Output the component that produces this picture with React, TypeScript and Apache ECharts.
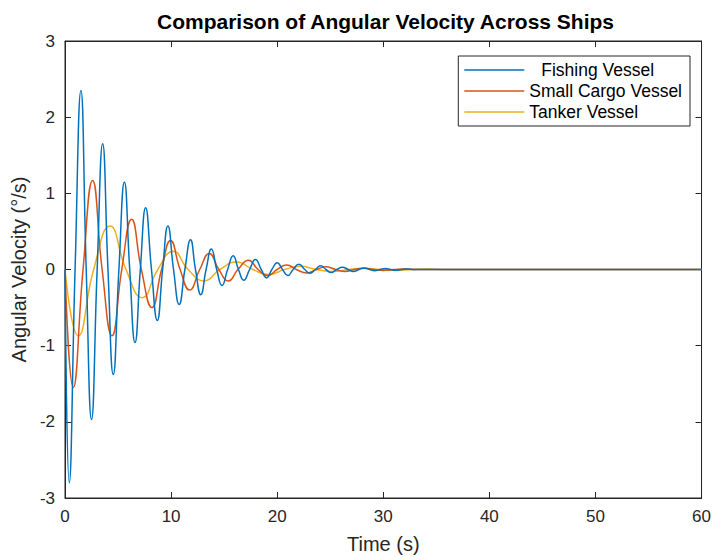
import React, { useEffect, useRef } from "react";
import * as echarts from "echarts";

const seriesNames = ["Fishing Vessel", "Small Cargo Vessel", "Tanker Vessel"];
const seriesColors = ["#0072BD", "#D95319", "#EDB120"];

const xTicks = [0, 10, 20, 30, 40, 50, 60];
const yTicks = [-3, -2, -1, 0, 1, 2, 3];

// [time (s), angular velocity (deg/s)]: extrema and zero crossings
const fishingVessel: number[][] = [
  [0, 0], [0.4, -2.8], [0.95, 0], [1.5, 2.35], [2.0, 0], [2.5, -1.97], [3.03, 0], [3.55, 1.65],
  [4.05, 0], [4.55, -1.38], [5.08, 0], [5.6, 1.15], [6.1, 0], [6.6, -0.96], [7.1, 0], [7.6, 0.81],
  [8.15, 0], [8.7, -0.67], [9.2, 0], [9.7, 0.57], [10.23, 0], [10.76, -0.46], [11.3, 0], [11.83, 0.39],
  [12.3, 0], [12.8, -0.33], [13.3, 0], [13.8, 0.27], [14.3, 0], [14.8, -0.21], [15.33, 0], [15.85, 0.18],
  [16.35, 0], [16.85, -0.14], [17.4, 0], [17.95, 0.13], [18.5, 0], [19.0, -0.11], [19.5, 0], [20.0, 0.09],
  [20.5, 0], [21.0, -0.08], [21.5, 0], [22.05, 0.07], [22.6, 0], [23.1, -0.05], [23.6, 0], [24.1, 0.05],
  [24.6, 0], [25.1, -0.04], [25.6, 0], [26.15, 0.03], [26.7, 0], [27.2, -0.025], [27.7, 0], [28.2, 0.02],
  [28.7, 0], [29.2, -0.015], [29.7, 0], [30.2, 0.012], [30.7, 0], [31.2, -0.01], [31.7, 0], [32.2, 0.008],
  [33, 0], [60, 0],
];

const smallCargoVessel: number[][] = [
  [0, 0], [0.78, -1.55], [1.7, 0], [2.6, 1.17], [3.5, 0], [4.43, -0.87], [5.35, 0], [6.28, 0.66],
  [7.2, 0], [8.2, -0.5], [9.1, 0], [9.95, 0.38], [10.85, 0], [11.75, -0.27], [12.7, 0], [13.6, 0.21],
  [14.5, 0], [15.4, -0.15], [16.3, 0], [17.3, 0.12], [18.2, 0], [19.1, -0.08], [20.0, 0], [20.9, 0.06],
  [21.8, 0], [22.8, -0.045], [23.7, 0], [24.6, 0.035], [25.5, 0], [26.4, -0.025], [27.3, 0], [28.2, 0.018],
  [29.1, 0], [30, -0.012], [31, 0], [32, 0.008], [33, 0], [60, 0],
];

const tankerVessel: number[][] = [
  [0, 0], [1.25, -0.87], [2.7, 0], [4.24, 0.57], [5.75, 0], [7.28, -0.37], [8.75, 0], [10.2, 0.24],
  [11.6, 0], [13.1, -0.15], [14.6, 0], [16.2, 0.1], [17.7, 0], [19.2, -0.065], [20.7, 0], [22.2, 0.042],
  [23.7, 0], [25.2, -0.027], [26.7, 0], [28.2, 0.018], [29.7, 0], [31.2, -0.012], [32.7, 0], [34.2, 0.008],
  [36, 0], [60, 0],
];

const seriesData = [fishingVessel, smallCargoVessel, tankerVessel];

const FONT = "'Liberation Sans', Arial, Helvetica, sans-serif";
const AX = "#262626";

export default function App() {
  const ref = useRef<HTMLDivElement>(null);
  useEffect(() => {
    if (!ref.current) return;
    const chart = echarts.init(ref.current, undefined, { renderer: "svg" });
    const tickStyle = { show: true, inside: true, length: 6, lineStyle: { color: AX, width: 1 } };
    const lineStyleAx = { show: true, onZero: false, lineStyle: { color: AX, width: 1 } };
    chart.setOption({
      animation: false,
      backgroundColor: "#ffffff",
      title: {
        text: "Comparison of Angular Velocity Across Ships",
        left: 152,
        top: 6,
        textStyle: { fontFamily: FONT, fontSize: 21, fontWeight: "bold", color: "#000" },
      },
      legend: {
        data: seriesNames,
        orient: "vertical",
        right: 24,
        top: 56,
        icon: "rect",
        itemWidth: 60,
        itemHeight: 1.3,
        itemGap: 0,
        padding: [3.5, 8, 3.5, 6],
        borderColor: AX,
        borderWidth: 1,
        backgroundColor: "#fff",
        textStyle: {
          fontFamily: FONT, fontSize: 17.5, lineHeight: 21, color: "#000",
          rich: { p: { width: 12, fontSize: 17.5, lineHeight: 21 } },
        },
        formatter: (name: string) => (name === "Fishing Vessel" ? "{p|}" + name : name),
      },
      grid: {
        left: 65, right: 12, top: 41, bottom: 56,
        show: true, borderColor: AX, borderWidth: 1, backgroundColor: "transparent",
      },
      xAxis: [
        {
          type: "value", min: xTicks[0], max: xTicks[xTicks.length - 1], interval: 10,
          name: "Time (s)", nameLocation: "middle", nameGap: 36,
          nameTextStyle: { fontFamily: FONT, fontSize: 20, color: AX },
          axisLine: lineStyleAx,
          axisTick: tickStyle,
          axisLabel: { fontFamily: FONT, fontSize: 17, color: AX, margin: 10 },
          splitLine: { show: false },
        },
        {
          type: "value", position: "top", min: xTicks[0], max: xTicks[xTicks.length - 1], interval: 10,
          axisLine: lineStyleAx,
          axisTick: tickStyle, axisLabel: { show: false }, splitLine: { show: false },
        },
      ],
      yAxis: [
        {
          type: "value", min: yTicks[0], max: yTicks[yTicks.length - 1], interval: 1,
          name: "Angular Velocity (°/s)", nameLocation: "middle", nameGap: 31,
          nameTextStyle: { fontFamily: FONT, fontSize: 20, color: AX },
          axisLine: lineStyleAx,
          axisTick: tickStyle,
          axisLabel: { fontFamily: FONT, fontSize: 17, color: AX, margin: 10 },
          splitLine: { show: false },
        },
        {
          type: "value", position: "right", min: yTicks[0], max: yTicks[yTicks.length - 1], interval: 1,
          axisLine: lineStyleAx,
          axisTick: tickStyle, axisLabel: { show: false }, splitLine: { show: false },
        },
      ],
      series: seriesNames.map((name, i) => ({
        name,
        type: "line",
        data: seriesData[i],
        smooth: 0.5,
        symbol: "none",
        lineStyle: { color: seriesColors[i], width: 1.5 },
        itemStyle: { color: seriesColors[i] },
        z: 3 - i,
      })),
    });
    return () => chart.dispose();
  }, []);
  return <div ref={ref} style={{ width: 714, height: 559, position: "absolute", left: 0, top: 0 }} />;
}
